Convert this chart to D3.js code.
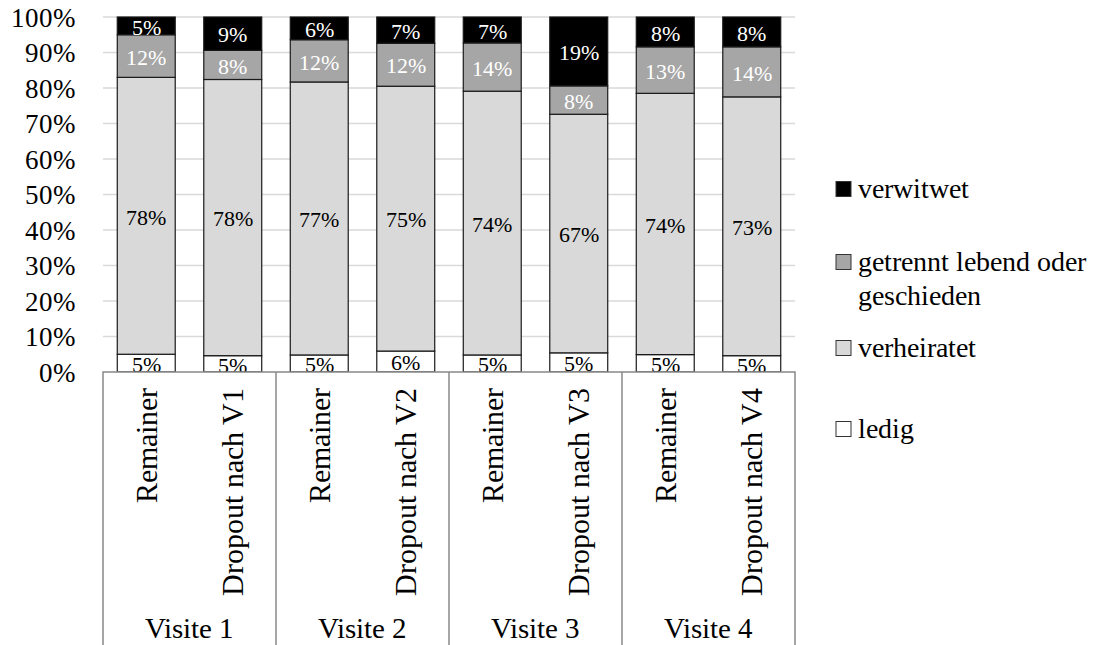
<!doctype html>
<html>
<head>
  <meta charset="utf-8">
  <script src="https://cdn.jsdelivr.net/npm/d3@7/dist/d3.min.js"></script>
  <style>
    @font-face {
        font-family: 'ChartSerif';
        src: local('Liberation Serif'), local('LiberationSerif'), local('Times New Roman'), local('Tinos');
    }
  </style>
</head>
<body style="margin:0">
<script>

    // categories
    let groups = ["Visite 1", "Visite 2", "Visite 3", "Visite 4"]
    let barLabels = ["Remainer", "Dropout nach V1", "Remainer", "Dropout nach V2",
                     "Remainer", "Dropout nach V3", "Remainer", "Dropout nach V4"]
    let seriesNames = ["ledig", "verheiratet", "getrennt lebend oder geschieden", "verwitwet"]
    let seriesColors = ["#ffffff", "#d9d9d9", "#a6a6a6", "#000000"]
    let labelColors = ["#000000", "#000000", "#ffffff", "#ffffff"]

    // values in percent, one per bar
    let ledig       = [5.0, 4.6, 4.8, 5.9, 4.8, 5.4, 4.9, 4.6]
    let verheiratet = [78.0, 77.8, 76.9, 74.6, 74.3, 67.2, 73.6, 72.9]
    let getrennt    = [12.0, 8.2, 11.9, 12.1, 13.6, 8.0, 13.1, 14.1]
    let verwitwet   = [5.0, 9.4, 6.4, 7.4, 7.3, 19.4, 8.4, 8.4]

    let yTicks = [0, 10, 20, 30, 40, 50, 60, 70, 80, 90, 100]

    let FONT = "ChartSerif, 'Liberation Serif', serif"
    let W = 1105, H = 645
    let plotLeft = 103, plotRight = 795, plotTop = 17, plotBottom = 372

    let setFont = (sel, size) => sel
        .style('font-family', FONT)
        .attr('font-size', size)

    let svg = d3.select('body')
        .append('svg')
        .attr('width', W)
        .attr('height', H)
        .style('font-family', FONT)

    let ids = barLabels.map((d, i) => i)
    let x = d3.scaleBand()
        .domain(ids)
        .range([plotLeft, plotRight])
        .paddingInner(0.33)
        .paddingOuter(0.165)

    let y = d3.scaleLinear()
        .domain([0, 100])
        .range([plotBottom, plotTop])

    // gridlines
    svg.append('g')
        .selectAll('line')
        .data(yTicks.slice(1))
        .join('line')
        .attr('x1', plotLeft)
        .attr('x2', plotRight)
        .attr('y1', d => y(d))
        .attr('y2', d => y(d))
        .attr('stroke', '#d9d9d9')
        .attr('stroke-width', 1.5)

    // y axis labels
    let yAxis = svg.append('g')
        .attr('transform', 'translate(' + (plotLeft - 28) + ',0)')
        .call(d3.axisLeft(y).tickValues(yTicks).tickFormat(d => d + '%').tickSize(0).tickPadding(0))
    yAxis.attr('font-family', null)
    yAxis.select('.domain').remove()
    setFont(yAxis.selectAll('text'), 27)
        .attr('fill', '#000')
        .attr('dy', '0.34em')

    // stacked bars
    let table = ids.map(i => ({
        id: i,
        ledig: ledig[i],
        verheiratet: verheiratet[i],
        getrennt: getrennt[i],
        verwitwet: verwitwet[i]
    }))
    let keys = ["ledig", "verheiratet", "getrennt", "verwitwet"]
    let stacked = d3.stack().keys(keys)(table)

    let layers = svg.append('g')
        .selectAll('g')
        .data(stacked)
        .join('g')
        .attr('fill', (d, i) => seriesColors[i])

    layers.selectAll('rect')
        .data(d => d)
        .join('rect')
        .attr('x', d => x(d.data.id))
        .attr('width', x.bandwidth())
        .attr('y', d => y(d[1]))
        .attr('height', d => y(d[0]) - y(d[1]))
        .attr('stroke', '#1a1a1a')
        .attr('stroke-width', 1.2)

    // data labels
    stacked.forEach((layer, li) => {
        let t = svg.append('g')
            .selectAll('text')
            .data(layer)
            .join('text')
            .attr('x', d => x(d.data.id) + x.bandwidth() / 2)
            .attr('y', d => (y(d[0]) + y(d[1])) / 2 + 1)
            .attr('dy', '0.35em')
            .attr('text-anchor', 'middle')
            .attr('fill', labelColors[li])
            .text(d => Math.round(d[1] - d[0]) + '%')
        setFont(t, 22)
    })

    // category axis box
    let step = x.step()
    let groupLeft = gi => plotLeft + gi * step * 2

    let cat = svg.append('g')
    cat.append('rect')
        .attr('x', plotLeft)
        .attr('y', plotBottom)
        .attr('width', plotRight - plotLeft)
        .attr('height', H - plotBottom + 5)
        .attr('fill', 'white')
        .attr('stroke', '#888')
        .attr('stroke-width', 1.5)

    cat.selectAll('line.sep')
        .data(d3.range(1, groups.length))
        .join('line')
        .attr('class', 'sep')
        .attr('x1', gi => groupLeft(gi))
        .attr('x2', gi => groupLeft(gi))
        .attr('y1', plotBottom)
        .attr('y2', H)
        .attr('stroke', '#888')
        .attr('stroke-width', 1.5)

    let barText = cat.selectAll('text.bar')
        .data(ids)
        .join('text')
        .attr('class', 'bar')
        .attr('transform', i => 'translate(' + (x(i) + x.bandwidth() / 2) + ',388) rotate(-90)')
        .attr('text-anchor', 'end')
        .attr('dy', '0.35em')
        .text(i => barLabels[i])
    setFont(barText, 30)

    let groupText = cat.selectAll('text.group')
        .data(groups)
        .join('text')
        .attr('class', 'group')
        .attr('x', (g, gi) => groupLeft(gi) + step)
        .attr('y', 638)
        .attr('text-anchor', 'middle')
        .text(g => g)
    setFont(groupText, 29)

    // legend, top entry is the last series
    let legendRows = [
        { s: 3, y: 189, lines: ["verwitwet"] },
        { s: 2, y: 262, lines: ["getrennt lebend oder", "geschieden"] },
        { s: 1, y: 348, lines: ["verheiratet"] },
        { s: 0, y: 429, lines: ["ledig"] }
    ]

    let legend = svg.append('g')
    for (let row of legendRows){
        legend.append('rect')
            .attr('x', 836)
            .attr('y', row.y - 7.5)
            .attr('width', 15)
            .attr('height', 15)
            .attr('fill', seriesColors[row.s])
            .attr('stroke', '#333')
            .attr('stroke-width', 1)
        row.lines.forEach((line, li) => {
            let t = legend.append('text')
                .attr('x', 858)
                .attr('y', row.y + 9 + li * 34)
                .text(line)
            setFont(t, 28)
        })
    }

</script>
</body>
</html>
